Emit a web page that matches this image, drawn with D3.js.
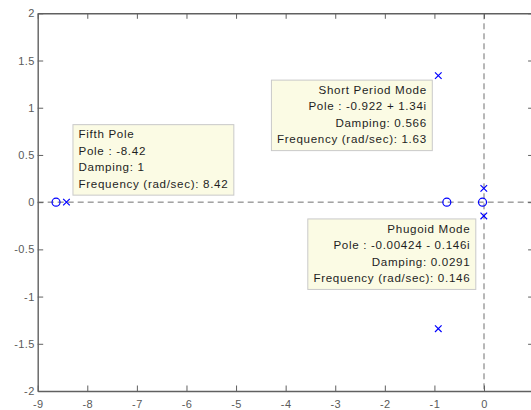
<!DOCTYPE html>
<html>
<head>
  <meta charset="UTF-8">
  <script src="https://d3js.org/d3.v7.min.js"></script>
  <style type="text/css">
    html, body { margin:0; padding:0; background:#fff; }
    svg { display:block; font-family: Arial, "Liberation Sans", Helvetica, sans-serif; }
  </style>
</head>
<body>
<div class="chart"></div>
<script>
  // pole / zero locations (real, imag)
  var poleRe = [-8.42, -0.922, -0.922, -0.00424, -0.00424];
  var poleIm = [0, 1.34, -1.34, 0.146, -0.146];
  var zeroRe = [-8.63, -0.75, -0.03];
  var zeroIm = [0, 0, 0];

  var xTicks = [-9, -8, -7, -6, -5, -4, -3, -2, -1, 0];
  var yTicks = [-2, -1.5, -1, -0.5, 0, 0.5, 1, 1.5, 2];

  // data tips
  var tipTitle = ["Fifth Pole", "Short Period Mode", "Phugoid Mode"];
  var tipPole = ["-8.42", "-0.922 + 1.34i", "-0.00424 - 0.146i"];
  var tipDamping = ["1", "0.566", "0.0291"];
  var tipFreq = ["8.42", "1.63", "0.146"];
  var tipPoleIndex = [0, 1, 4];

  var svgWidth = 531, svgHeight = 410;
  var plotLeft = 37.7, plotRight = 533.6, plotTop = 13.3, plotBottom = 391;

  var svg = d3.select(".chart").append("svg")
    .attr("width", svgWidth)
    .attr("height", svgHeight);

  var xScale = d3.scaleLinear().domain([-9, 1]).range([plotLeft, plotRight]);
  var yScale = d3.scaleLinear().domain([-2, 2]).range([plotBottom, plotTop]);

  var axisColor = "#606060";
  var fmt = function(d) { return String(d); };

  // dashed zero lines
  svg.append("line")
    .attr("x1", plotLeft).attr("x2", plotRight)
    .attr("y1", yScale(0)).attr("y2", yScale(0))
    .attr("stroke", "#707070").attr("stroke-width", 1)
    .attr("stroke-dasharray", "6,4");
  svg.append("line")
    .attr("x1", xScale(0)).attr("x2", xScale(0))
    .attr("y1", plotTop).attr("y2", plotBottom)
    .attr("stroke", "#707070").attr("stroke-width", 1)
    .attr("stroke-dasharray", "6,4");

  // axes
  var tickLen = 5.5;
  function styleAxis(g) {
    g.select(".domain").attr("stroke", axisColor).attr("stroke-width", 1.4);
    g.selectAll(".tick line").attr("stroke", axisColor).attr("stroke-width", 1);
    g.selectAll(".tick text").attr("fill", "#5a5a5a").attr("font-size", "11px")
      .attr("letter-spacing", "0.4px");
  }

  svg.append("g")
    .attr("transform", "translate(0," + plotBottom + ")")
    .call(d3.axisBottom(xScale).tickValues(xTicks).tickSize(-tickLen).tickPadding(9).tickSizeOuter(0).tickFormat(fmt))
    .call(styleAxis);
  svg.append("g")
    .attr("transform", "translate(0," + plotTop + ")")
    .call(d3.axisTop(xScale).tickValues(xTicks).tickSize(-tickLen).tickSizeOuter(0).tickFormat(""))
    .call(styleAxis);
  svg.append("g")
    .attr("transform", "translate(" + plotLeft + ",0)")
    .call(d3.axisLeft(yScale).tickValues(yTicks).tickSize(-tickLen).tickPadding(3).tickSizeOuter(0).tickFormat(fmt))
    .call(styleAxis);
  svg.append("g")
    .attr("transform", "translate(" + plotRight + ",0)")
    .call(d3.axisRight(yScale).tickValues(yTicks).tickSize(-tickLen).tickSizeOuter(0).tickFormat(""))
    .call(styleAxis);

  // zeros
  svg.selectAll("circle.zero")
    .data(zeroRe)
    .enter().append("circle")
    .attr("class", "zero")
    .attr("cx", function(d) { return xScale(d); })
    .attr("cy", function(d, i) { return yScale(zeroIm[i]); })
    .attr("r", 4)
    .attr("fill", "none")
    .attr("stroke", "#0000ff")
    .attr("stroke-width", 1.2);

  // poles
  var s = 3.3;
  svg.selectAll("path.pole")
    .data(poleRe)
    .enter().append("path")
    .attr("class", "pole")
    .attr("d", function(d, i) {
      var px = xScale(d), py = yScale(poleIm[i]);
      return "M" + (px - s) + "," + (py - s) + "L" + (px + s) + "," + (py + s) +
             "M" + (px - s) + "," + (py + s) + "L" + (px + s) + "," + (py - s);
    })
    .attr("fill", "none")
    .attr("stroke", "#0000ff")
    .attr("stroke-width", 1.2);

  // data tips: offsets from their pole, and which side the box sits
  var tipOffset = [
    { dx: 6.5, dy: -7, alignRight: false, fromBottom: true },
    { dx: -6, dy: 4.5, alignRight: true, fromBottom: false },
    { dx: -8, dy: 3, alignRight: true, fromBottom: false }
  ];
  var lineH = 16.5, padL = 5.6, padR = 6.2, boxH = 70.5, ls = 0.68;

  tipTitle.forEach(function(title, i) {
    var pi = tipPoleIndex[i];
    var px = xScale(poleRe[pi]), py = yScale(poleIm[pi]);
    var o = tipOffset[i];
    var lines = [title, "Pole : " + tipPole[i], "Damping: " + tipDamping[i],
                 "Frequency (rad/sec): " + tipFreq[i]];

    var g = svg.append("g");
    var rect = g.append("rect")
      .attr("fill", "#fbfbe4")
      .attr("stroke", "#c9c9c9")
      .attr("stroke-width", 1);
    var txt = g.append("g");
    lines.forEach(function(l, k) {
      txt.append("text")
        .attr("y", 13.6 + k * lineH)
        .attr("font-size", "11.6px")
        .attr("letter-spacing", ls + "px")
        .attr("fill", "#1e1e1e")
        .attr("text-anchor", o.alignRight ? "end" : "start")
        .text(l);
    });
    var w = txt.node().getBBox().width - ls + padL + padR;
    var bx = o.alignRight ? px + o.dx - w : px + o.dx;
    var by = o.fromBottom ? py + o.dy - boxH : py + o.dy;
    rect.attr("x", bx).attr("y", by).attr("width", w).attr("height", boxH);
    txt.attr("transform", "translate(" + (o.alignRight ? bx + w - padR + ls : bx + padL) + "," + by + ")");
  });
</script>
</body>
</html>
